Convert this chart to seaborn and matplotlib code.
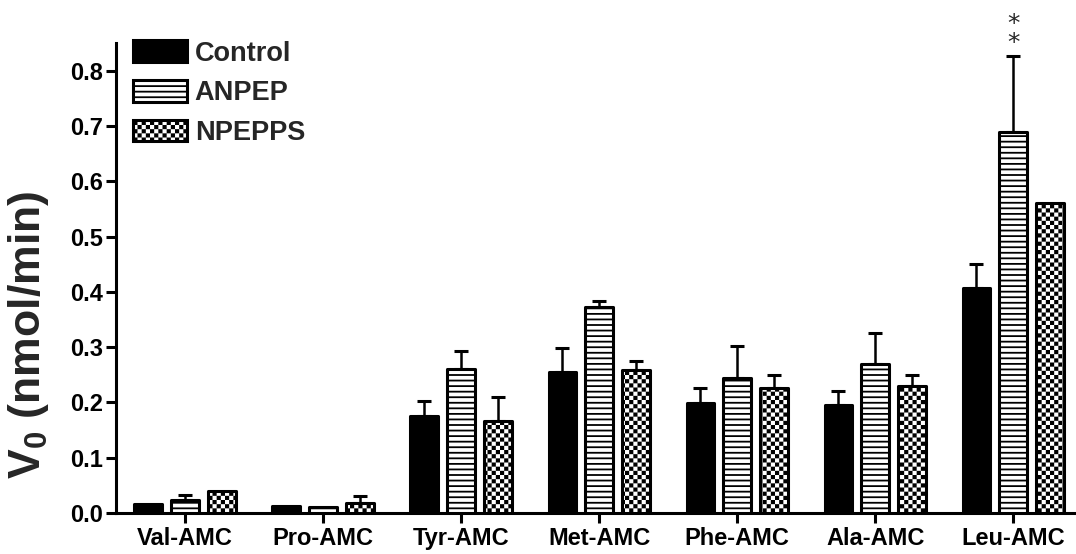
import warnings
import numpy as np
import pandas as pd
import matplotlib
matplotlib.use("Agg")
import matplotlib.pyplot as plt
import matplotlib.hatch as mhatch
from matplotlib.path import Path
import seaborn as sns

warnings.filterwarnings("ignore")

# ---- data -------------------------------------------------------------
substrates = ["Val-AMC", "Pro-AMC", "Tyr-AMC", "Met-AMC", "Phe-AMC", "Ala-AMC", "Leu-AMC"]
groups = ["Control", "ANPEP", "NPEPPS"]

control = [0.017, 0.013, 0.176, 0.255, 0.199, 0.196, 0.407]
control_sem = [0.0, 0.0, 0.026, 0.043, 0.028, 0.024, 0.044]

anpep = [0.024, 0.010, 0.261, 0.372, 0.245, 0.269, 0.690]
anpep_sem = [0.008, 0.0, 0.032, 0.012, 0.057, 0.056, 0.137]

npepps = [0.039, 0.018, 0.167, 0.259, 0.227, 0.230, 0.561]
npepps_sem = [0.0, 0.013, 0.042, 0.016, 0.022, 0.019, 0.0]

yticks = [0.0, 0.1, 0.2, 0.3, 0.4, 0.5, 0.6, 0.7, 0.8]
ylabel = "$V_0$ (nmol/min)"
signif_label = "*\n*"
signif_index = 6  # Leu-AMC, ANPEP


# ---- checkerboard hatch ('c') -------------------------------------------
class CheckerHatch(mhatch.HatchPatternBase):
    inset = 0.009

    def __init__(self, hatch, density):
        self.num_cells = hatch.count("c") * density
        n = self.num_cells
        self.num_vertices = (n * n // 2) * 5 if n else 0

    def set_vertices_and_codes(self, vertices, codes):
        n = self.num_cells
        s = 1.0 / n
        d = self.inset
        sq = np.array([[d, d], [s - d, d], [s - d, s - d], [d, s - d], [d, d]])
        cc = [Path.MOVETO, Path.LINETO, Path.LINETO, Path.LINETO, Path.CLOSEPOLY]
        k = 0
        for i in range(n):
            for j in range(n):
                if (i + j) % 2 == 0:
                    vertices[k:k + 5] = sq + [i * s, j * s]
                    codes[k:k + 5] = cc
                    k += 5


mhatch._hatch_types.append(CheckerHatch)

# ---- style ------------------------------------------------------------
sns.set_theme(style="ticks")
plt.rcParams["font.family"] = ["Liberation Sans", "DejaVu Sans"]
plt.rcParams["font.weight"] = "bold"
plt.rcParams["mathtext.fontset"] = "custom"
plt.rcParams["mathtext.rm"] = "Liberation Sans:bold"
plt.rcParams["mathtext.it"] = "Liberation Sans:bold"
plt.rcParams["mathtext.bf"] = "Liberation Sans:bold"
plt.rcParams["mathtext.default"] = "regular"
plt.rcParams["hatch.linewidth"] = 1.3
plt.rcParams["hatch.color"] = "black"

df = pd.DataFrame({
    "substrate": substrates * 3,
    "group": [g for g in groups for _ in substrates],
    "v0": control + anpep + npepps,
})

fig = plt.figure(figsize=(10.76, 5.54), dpi=100)
ax = fig.add_axes([0.1078, 0.074, 0.898, 0.848])

sns.barplot(
    data=df, x="substrate", y="v0", hue="group",
    order=substrates, hue_order=groups,
    palette={"Control": "black", "ANPEP": "white", "NPEPPS": "white"},
    edgecolor="black", linewidth=2.2, width=0.8, gap=0.25,
    errorbar=None, legend=False, ax=ax, zorder=3,
)

hatches = {"Control": None, "ANPEP": "---", "NPEPPS": "cccc"}
sems = {"Control": control_sem, "ANPEP": anpep_sem, "NPEPPS": npepps_sem}
means = {"Control": control, "ANPEP": anpep, "NPEPPS": npepps}

for cont, g in zip(ax.containers, groups):
    xs, ys, es = [], [], []
    for bar, m, e in zip(cont, means[g], sems[g]):
        bar.set_joinstyle("round")
        if hatches[g]:
            bar.set_hatch(hatches[g])
        if e > 0:
            xs.append(bar.get_x() + bar.get_width() / 2)
            ys.append(m)
            es.append(e)
    if xs:
        ax.errorbar(xs, ys, yerr=[np.zeros(len(es)), es], fmt="none",
                    ecolor="black", elinewidth=1.8, capsize=4.7,
                    capthick=2.2, zorder=2)

# significance marks above the ANPEP Leu-AMC bar
sig_bar = ax.containers[1][signif_index]
ax.text(sig_bar.get_x() + sig_bar.get_width() / 2,
        anpep[signif_index] + anpep_sem[signif_index] + 0.002,
        signif_label, ha="center", va="bottom", fontsize=18,
        fontweight="normal", linespacing=0.72, family="DejaVu Sans")

# ---- axes -------------------------------------------------------------
ax.set_xlim(-0.5, 6.5)
ax.set_ylim(0, 0.85)
ax.set_yticks(yticks)
ax.set_yticklabels([f"{t:.1f}" for t in yticks])
ax.set_xlabel("")
ax.set_ylabel(ylabel, fontsize=32, fontweight="bold")
ax.yaxis.set_label_coords(-0.091, 0.38)
ax.yaxis.label.set_va("center")

for side in ("top", "right"):
    ax.spines[side].set_visible(False)
for side in ("left", "bottom"):
    ax.spines[side].set_linewidth(2.2)
    ax.spines[side].set_color("black")

ax.tick_params(axis="both", which="major", length=7, width=2.2,
               color="black", labelsize=17, labelcolor="black")
ax.tick_params(axis="y", pad=2)
ax.tick_params(axis="x", pad=3)
for lab in ax.get_xticklabels() + ax.get_yticklabels():
    lab.set_fontweight("bold")

leg = ax.legend(ax.containers, groups, loc="upper left",
                bbox_to_anchor=(0.0176, 1.006), frameon=False,
                prop={"size": 19.5, "weight": "bold"},
                handlelength=2.0, handleheight=0.85, handletextpad=0.28,
                labelspacing=0.5, borderaxespad=0, borderpad=0)

fig.savefig("out.png", dpi=100)
